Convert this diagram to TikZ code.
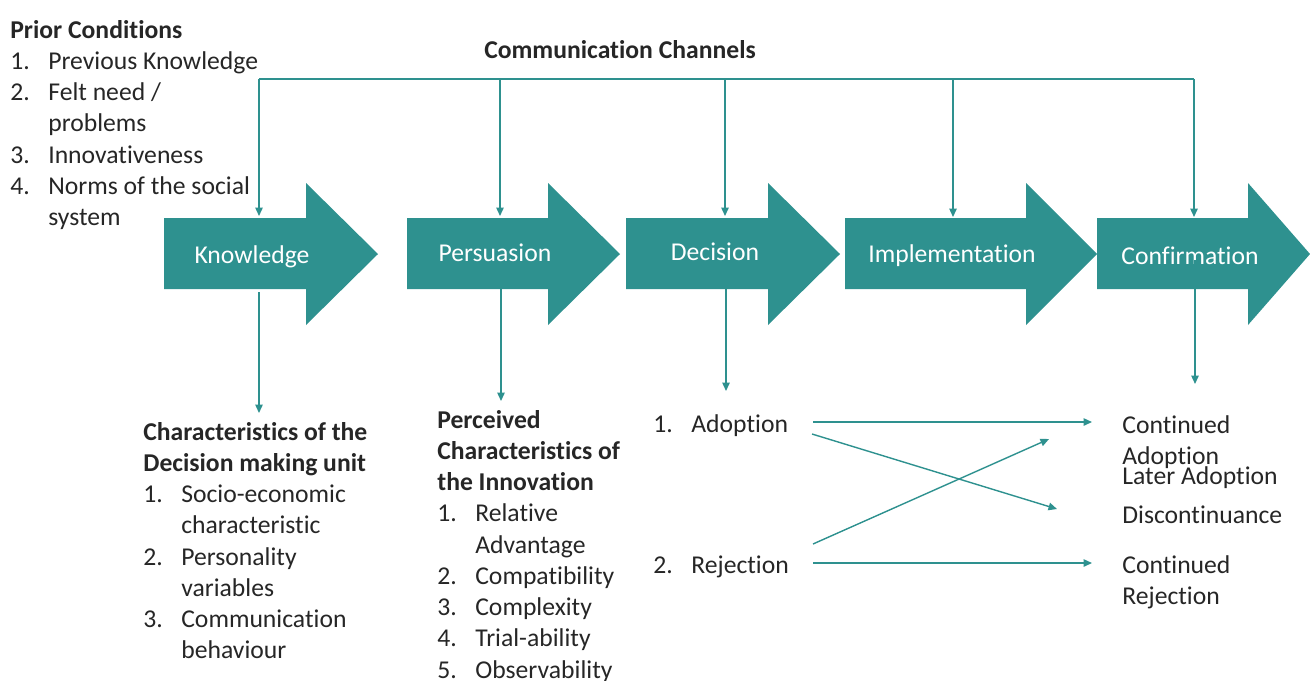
\documentclass[tikz,border=0pt]{standalone}
\usepackage{fontspec}
\setmainfont{Carlito}[RawFeature={-liga;-clig;-calt;-dlig}]
\usetikzlibrary{arrows.meta,positioning}
\definecolor{stagefill}{HTML}{2E918F}
\definecolor{ink}{HTML}{262626}
\newcommand{\stagearrow}[3]{\fill[stagefill] (#1,218) -- (#2,218) -- (#2,183) -- (#3,254) -- (#2,325) -- (#2,289) -- (#1,289) -- cycle;}

\begin{document}
\begin{tikzpicture}[x=0.02cm,y=-0.02cm,
txt/.style={inner sep=0pt,anchor=base west,text=ink,font=\fontsize{14.6pt}{17.8pt}\selectfont},
stage/.style={inner sep=0pt,anchor=base,text=white,font=\fontsize{14.6pt}{17.8pt}\selectfont},
line/.style={draw=stagefill,line width=0.8pt,-{Triangle[length=1.7mm,width=1.5mm]}},
rail/.style={draw=stagefill,line width=0.8pt}]
\useasboundingbox (0,0) rectangle (1310,680);

% stage arrows
\stagearrow{164}{306}{378}
\stagearrow{407}{548}{620}
\stagearrow{626}{768}{840}
\stagearrow{845}{1026}{1097}
\stagearrow{1097}{1248}{1310}

\node[stage] (know) at (252,263) {Knowledge};
\node[stage] (pers) at (495,261) {Persuasion};
\node[stage] (deci) at (715,260) {Decision};
\node[stage] (impl) at (952,262) {Implementation};
\node[stage] (conf) at (1190,264) {Confirmation};

% texts
\node[txt, anchor=base] (chan) at (620,58) {\textbf{Communication Channels}};

\node[txt] (prior) at (10,38) {\begin{tabular}[t]{@{}p{0.76cm}@{}l@{}}
\multicolumn{2}{@{}l@{}}{\textbf{Prior Conditions}}\\
1. & Previous Knowledge\\
2. & Felt need /\\
   & problems\\
3. & Innovativeness\\
4. & Norms of the social\\
   & system
\end{tabular}};

\node[txt] (unit) at (143,440) {\begin{tabular}[t]{@{}p{0.76cm}@{}l@{}}
\multicolumn{2}{@{}l@{}}{\textbf{Characteristics of the}}\\
\multicolumn{2}{@{}l@{}}{\textbf{Decision making unit}}\\
1. & Socio-economic\\
   & characteristic\\
2. & Personality\\
   & variables\\
3. & Communication\\
   & behaviour
\end{tabular}};

\node[txt] (innov) at (437,428) {\begin{tabular}[t]{@{}p{0.76cm}@{}l@{}}
\multicolumn{2}{@{}l@{}}{\textbf{Perceived}}\\
\multicolumn{2}{@{}l@{}}{\textbf{Characteristics of}}\\
\multicolumn{2}{@{}l@{}}{\textbf{the Innovation}}\\
1. & Relative\\
   & Advantage\\
2. & Compatibility\\
3. & Complexity\\
4. & Trial-ability\\
5. & Observability
\end{tabular}};

\node[txt] (adopt) at (653,432) {\makebox[0.76cm][l]{1.}Adoption};
\node[txt] (reject) at (653,573) {\makebox[0.76cm][l]{2.}Rejection};

\node[txt] (contadopt) at (1122,433) {\begin{tabular}[t]{@{}l@{}}Continued\\Adoption\end{tabular}};
\node[txt] (later) at (1122,484) {Later Adoption};
\node[txt] (discont) at (1122,523) {Discontinuance};
\node[txt] (contreject) at (1122,573) {\begin{tabular}[t]{@{}l@{}}Continued\\Rejection\end{tabular}};

% communication channels
\coordinate (ck) at (259,79);
\coordinate (cp) at (500,79);
\coordinate (cd) at (725,79);
\coordinate (ci) at (953,79);
\coordinate (cc) at (1194,79);
\path [rail] (ck) -- (cc);
\path [line] (ck) -- (259,216);
\path [line] (cp) -- (500,216);
\path [line] (cd) -- (725,216);
\path [line] (ci) -- (953,217);
\path [line] (cc) -- (1194,217);

% outputs of the stages
\coordinate (ko) at (259,292);
\coordinate (po) at (501,266);
\coordinate (do) at (726,263);
\coordinate (co) at (1195,260);
\path [line] (ko) -- (259,413);
\path [line] (po) -- (501,401);
\path [line] (do) -- (726,391);
\path [line] (co) -- (1195,384);

% decisions
\coordinate (a1) at (813,422);
\coordinate (a2) at (812,434);
\coordinate (r1) at (813,544);
\coordinate (r2) at (813,563);
\coordinate (t1) at (1092,422);
\coordinate (t2) at (1057,509);
\coordinate (t3) at (1049,439);
\coordinate (t4) at (1092,563);
\path [line] (a1) -- (t1);
\path [line] (a2) -- (t2);
\path [line] (r1) -- (t3);
\path [line] (r2) -- (t4);
\end{tikzpicture}
\end{document}
